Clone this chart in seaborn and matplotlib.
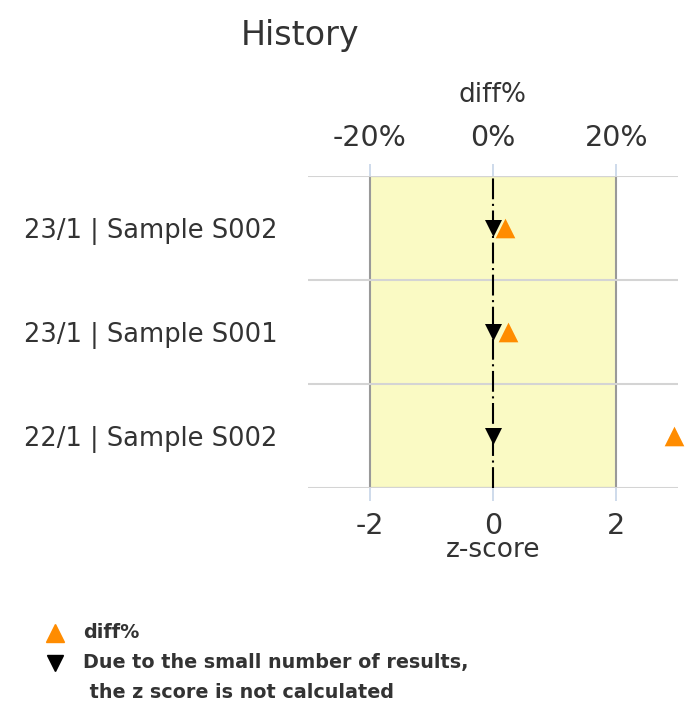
import matplotlib
matplotlib.use("Agg")
import matplotlib.pyplot as plt
from matplotlib.lines import Line2D
import numpy as np
import pandas as pd
import seaborn as sns

# ── Data ──────────────────────────────────────────────────────────────────────
samples = ["23/1 | Sample S002", "23/1 | Sample S001", "22/1 | Sample S002"]
diff_pct = [1.9, 2.5, 29.4]          # top axis (diff%)
z_score = [0, 0, 0]                  # z not calculated -> drawn at 0
z_ticks = [-2, 0, 2]
diff_ticks = [-20, 0, 20]
legend_labels = ["diff%", "Due to the small number of results,", " the z score is not calculated"]

ORANGE = "#ff8c00"
TEXT = "#333333"
TICK_BLUE = "#c6d4e8"

df = pd.DataFrame({"sample": samples, "diff": diff_pct, "z": z_score,
                   "row": np.arange(len(samples))})

sns.set_style("white")
plt.rcParams["font.family"] = ["DejaVu Sans"]

fig = plt.figure(figsize=(6.99, 7.09), dpi=100)
W, H = 699, 709
ax = fig.add_axes([308 / W, 1 - 488 / H, 370 / W, 312 / H])
ax.set_axisbelow(False)

# acceptable z range box + zero line
ax.axvspan(-2, 2, facecolor="#fafac4", edgecolor="#999999", lw=1.5, zorder=1)
ax.axvline(0, color="black", lw=1.5, linestyle=(0, (10, 2.2, 1, 2.2)), zorder=2.8)

sns.scatterplot(data=df, x="z", y="row", ax=ax, marker="v", color="black",
                s=150, linewidth=0, zorder=3, clip_on=False)

ax.set_xlim(-3, 3)
ax.set_ylim(len(samples) - 0.5, -0.5)
ax.set_xticks(z_ticks)
ax.set_xticklabels([str(t) for t in z_ticks])
ax.set_yticks(df["row"])
ax.set_yticklabels(samples)
ax.set_yticks(np.arange(len(samples) + 1) - 0.5, minor=True)
ax.grid(False)
ax.grid(which="minor", axis="y", color="#d4d4d4", lw=1.5)
ax.tick_params(axis="x", which="major", colors=TICK_BLUE, length=9, width=1.2,
               pad=8, labelsize=20.5, labelcolor=TEXT)
ax.tick_params(axis="y", which="both", length=0, pad=22, labelsize=18.5, labelcolor=TEXT)
ax.set_xlabel("z-score", fontsize=19, color=TEXT, labelpad=-2)
ax.set_ylabel("")
for sp in ax.spines.values():
    sp.set_visible(False)

# diff% on the top axis
ax2 = ax.twiny()
sns.scatterplot(data=df, x="diff", y="row", ax=ax2, marker="^", color=ORANGE,
                s=200, linewidth=0, zorder=4, clip_on=False)
ax2.set_xlim(-30, 30)
ax2.set_ylim(len(samples) - 0.5, -0.5)
ax2.set_xticks(diff_ticks)
ax2.set_xticklabels([f"{t}%" for t in diff_ticks])
ax2.tick_params(axis="x", colors=TICK_BLUE, length=9, width=1.2, pad=8,
                labelsize=20.5, labelcolor=TEXT)
ax2.set_xlabel("diff%", fontsize=19, color=TEXT, labelpad=16)
ax2.set_ylabel("")
for sp in ax2.spines.values():
    sp.set_visible(False)

fig.text(300 / W, 1 - 35 / H, "History", ha="center", va="center",
         fontsize=24, color=TEXT)

# ── Legend (drawn by hand so the marker sits on the first text line) ──────────
fig.add_artist(Line2D([55 / W], [1 - 633 / H], marker="^", color=ORANGE,
                      markersize=13, ls="none", transform=fig.transFigure))
fig.add_artist(Line2D([55 / W], [1 - 663 / H], marker="v", color="black",
                      markersize=11, ls="none", transform=fig.transFigure))
for i, lbl in enumerate(legend_labels):
    fig.text(83 / W, 1 - (633 + 29.5 * i) / H, lbl, ha="left", va="center",
             fontsize=13.8, fontweight="bold", color=TEXT)

fig.savefig("out.png", dpi=100)
